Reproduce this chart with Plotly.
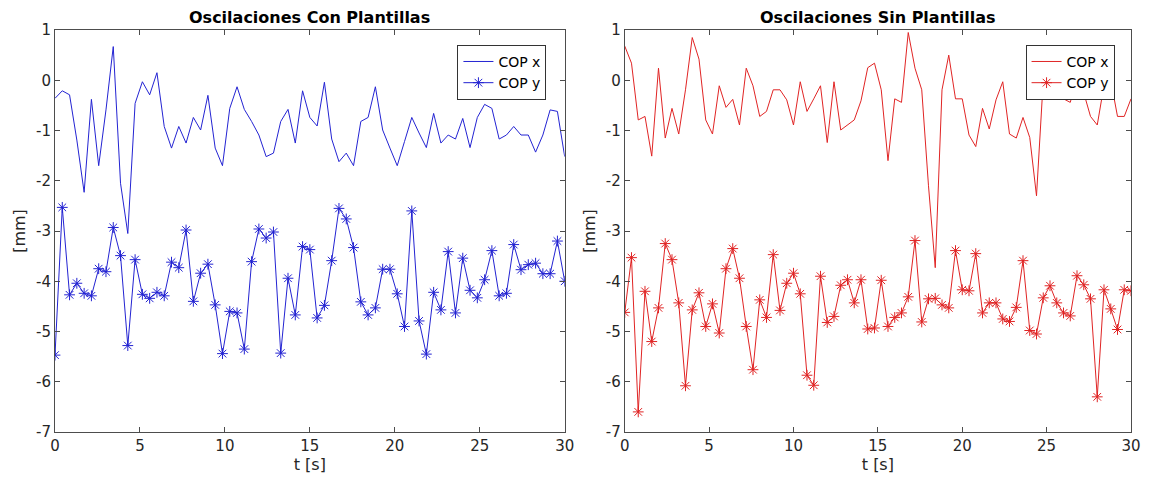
import numpy as np
import plotly.graph_objects as go
from plotly.subplots import make_subplots

# ---- data ----
con_cop_x = [-0.36, -0.21, -0.29, -1.19, -2.23, -0.38, -1.70, -0.59, 0.67, -2.05,
             -3.05, -0.46, -0.03, -0.29, 0.15, -0.92, -1.35, -0.92, -1.25, -0.74,
             -0.99, -0.30, -1.35, -1.70, -0.56, -0.13, -0.58, -0.82, -1.09, -1.52,
             -1.45, -0.82, -0.58, -1.25, -0.21, -0.74, -0.91, -0.04, -1.17, -1.62,
             -1.45, -1.70, -0.82, -0.74, -0.13, -0.99, -1.35, -1.70, -1.22, -0.74,
             -1.05, -1.34, -0.66, -1.25, -1.09, -1.17, -0.76, -1.34, -0.74, -0.48,
             -0.56, -1.17, -1.09, -0.92, -1.09, -1.09, -1.43, -1.09, -0.59, -0.62,
             -1.52]
con_cop_y = [-5.47, -2.53, -4.27, -4.04, -4.24, -4.29, -3.75, -3.81, -2.93, -3.49,
             -5.28, -3.57, -4.26, -4.34, -4.22, -4.29, -3.62, -3.73, -2.98, -4.40,
             -3.84, -3.66, -4.47, -5.44, -4.60, -4.63, -5.35, -3.61, -2.96, -3.14,
             -3.02, -5.43, -3.94, -4.67, -3.31, -3.37, -4.73, -4.48, -3.59, -2.55,
             -2.76, -3.33, -4.41, -4.67, -4.53, -3.76, -3.76, -4.25, -4.90, -2.60,
             -4.79, -5.45, -4.22, -4.57, -3.41, -4.63, -3.54, -4.18, -4.33, -3.97,
             -3.39, -4.29, -4.24, -3.27, -3.77, -3.67, -3.64, -3.85, -3.85, -3.20,
             -4.00]
sin_cop_x = [0.68, 0.34, -0.79, -0.72, -1.51, 0.24, -1.15, -0.56, -1.07, -0.19,
             0.85, 0.42, -0.79, -1.07, -0.11, -0.54, -0.38, -0.89, 0.24, -0.11,
             -0.72, -0.62, -0.19, -0.19, -0.39, -0.89, -0.03, -0.62, -0.37, -0.11,
             -1.24, -0.03, -0.99, -0.89, -0.79, -0.41, 0.25, 0.34, -0.19, -1.60,
             -0.37, -0.44, 0.95, 0.24, -0.19, -2.10, -3.73, -0.19, 0.50, -0.37,
             -0.37, -1.09, -1.32, -0.56, -0.97, -0.39, -0.03, -1.07, -1.15, -0.74,
             -1.14, -2.30, 0.00, -0.10, 0.05, -0.37, -0.44, 0.05, -0.25, -0.72,
             -0.89, -0.10, 0.00, -0.72, -0.72, -0.37]
sin_cop_y = [-4.62, -3.53, -6.60, -4.20, -5.20, -4.53, -3.25, -3.57, -4.43, -6.08,
             -4.57, -4.23, -4.90, -4.45, -5.03, -3.75, -3.35, -3.94, -4.90, -5.76,
             -4.37, -4.72, -3.47, -4.58, -4.04, -3.84, -4.25, -5.87, -6.07, -3.90,
             -4.82, -4.70, -4.08, -3.97, -4.43, -3.97, -4.95, -4.93, -3.98, -4.90,
             -4.72, -4.63, -4.31, -3.19, -4.81, -4.35, -4.34, -4.47, -4.53, -3.39,
             -4.17, -4.19, -3.45, -4.63, -4.43, -4.43, -4.75, -4.80, -4.52, -3.59,
             -4.98, -5.05, -4.33, -4.09, -4.43, -4.63, -4.69, -3.89, -4.07, -4.35,
             -6.30, -4.17, -4.55, -4.96, -4.17, -4.19]

t_con = np.linspace(0, 30, len(con_cop_x))
t_sin = np.linspace(0, 30, len(sin_cop_x))

titles = ["Oscilaciones Con Plantillas", "Oscilaciones Sin Plantillas"]
y_ticks = [-7, -6, -5, -4, -3, -2, -1, 0, 1]
y_ticktext = ["-7", "-6", "-5", "-4", "-3", "-2", "-1", "0", "1"]
x_ticks = [0, 5, 10, 15, 20, 25, 30]

FONT = "DejaVu Sans"
BLUE = "#2323d2"
RED = "#e02424"
DOM1 = [0, 0.4737]
DOM2 = [0.5295, 1]

fig = make_subplots(rows=1, cols=2)
fig.update_layout(xaxis=dict(domain=DOM1), xaxis2=dict(domain=DOM2))

fig.add_trace(go.Scatter(x=t_con, y=con_cop_x, mode="lines", name="COP x",
                         line=dict(color=BLUE, width=1), legend="legend"), 1, 1)
fig.add_trace(go.Scatter(x=t_con, y=con_cop_y, mode="lines+markers", name="COP y",
                         line=dict(color=BLUE, width=1),
                         marker=dict(symbol="asterisk-open", size=9,
                                     line=dict(color=BLUE, width=1)),
                         legend="legend"), 1, 1)
fig.add_trace(go.Scatter(x=t_sin, y=sin_cop_x, mode="lines", name="COP x",
                         line=dict(color=RED, width=1), legend="legend2"), 1, 2)
fig.add_trace(go.Scatter(x=t_sin, y=sin_cop_y, mode="lines+markers", name="COP y",
                         line=dict(color=RED, width=1),
                         marker=dict(symbol="asterisk-open", size=9,
                                     line=dict(color=RED, width=1)),
                         legend="legend2"), 1, 2)

axis_common = dict(showline=True, linecolor="#4d4d4d", linewidth=1, mirror="ticks",
                   ticks="inside", ticklen=5, tickcolor="#4d4d4d", showgrid=False,
                   zeroline=False, tickfont=dict(family=FONT, size=15, color="#262626"))
for c in (1, 2):
    fig.update_xaxes(range=[0, 30], tickvals=x_ticks, row=1, col=c,
                     title=dict(text="t [s]", font=dict(family=FONT, size=16, color="#262626"),
                                standoff=3),
                     **axis_common)
    fig.update_yaxes(range=[-7, 1], tickvals=y_ticks, ticktext=y_ticktext, row=1, col=c,
                     title=dict(text="[mm]", font=dict(family=FONT, size=16, color="#262626"),
                                standoff=6),
                     **axis_common)

for i, dom in enumerate([DOM1, DOM2]):
    fig.add_annotation(text="<b>" + titles[i] + "</b>", x=(dom[0] + dom[1]) / 2, y=1.0,
                       xref="paper", yref="paper", xanchor="center", yanchor="bottom",
                       yshift=1, showarrow=False,
                       font=dict(family=FONT, size=16, color="#000000"))

leg_common = dict(bgcolor="white", bordercolor="#333333", borderwidth=1,
                  font=dict(family=FONT, size=14, color="#000000"),
                  xanchor="left", yanchor="top", tracegroupgap=0, itemwidth=30)
fig.update_layout(
    width=1153, height=483,
    margin=dict(l=55.3, r=18.5, t=30, b=50.6),
    paper_bgcolor="white", plot_bgcolor="white",
    showlegend=True,
    legend=dict(x=0.374, y=0.963, **leg_common),
    legend2=dict(x=0.902, y=0.963, **leg_common),
)

fig.write_html("out.html")
